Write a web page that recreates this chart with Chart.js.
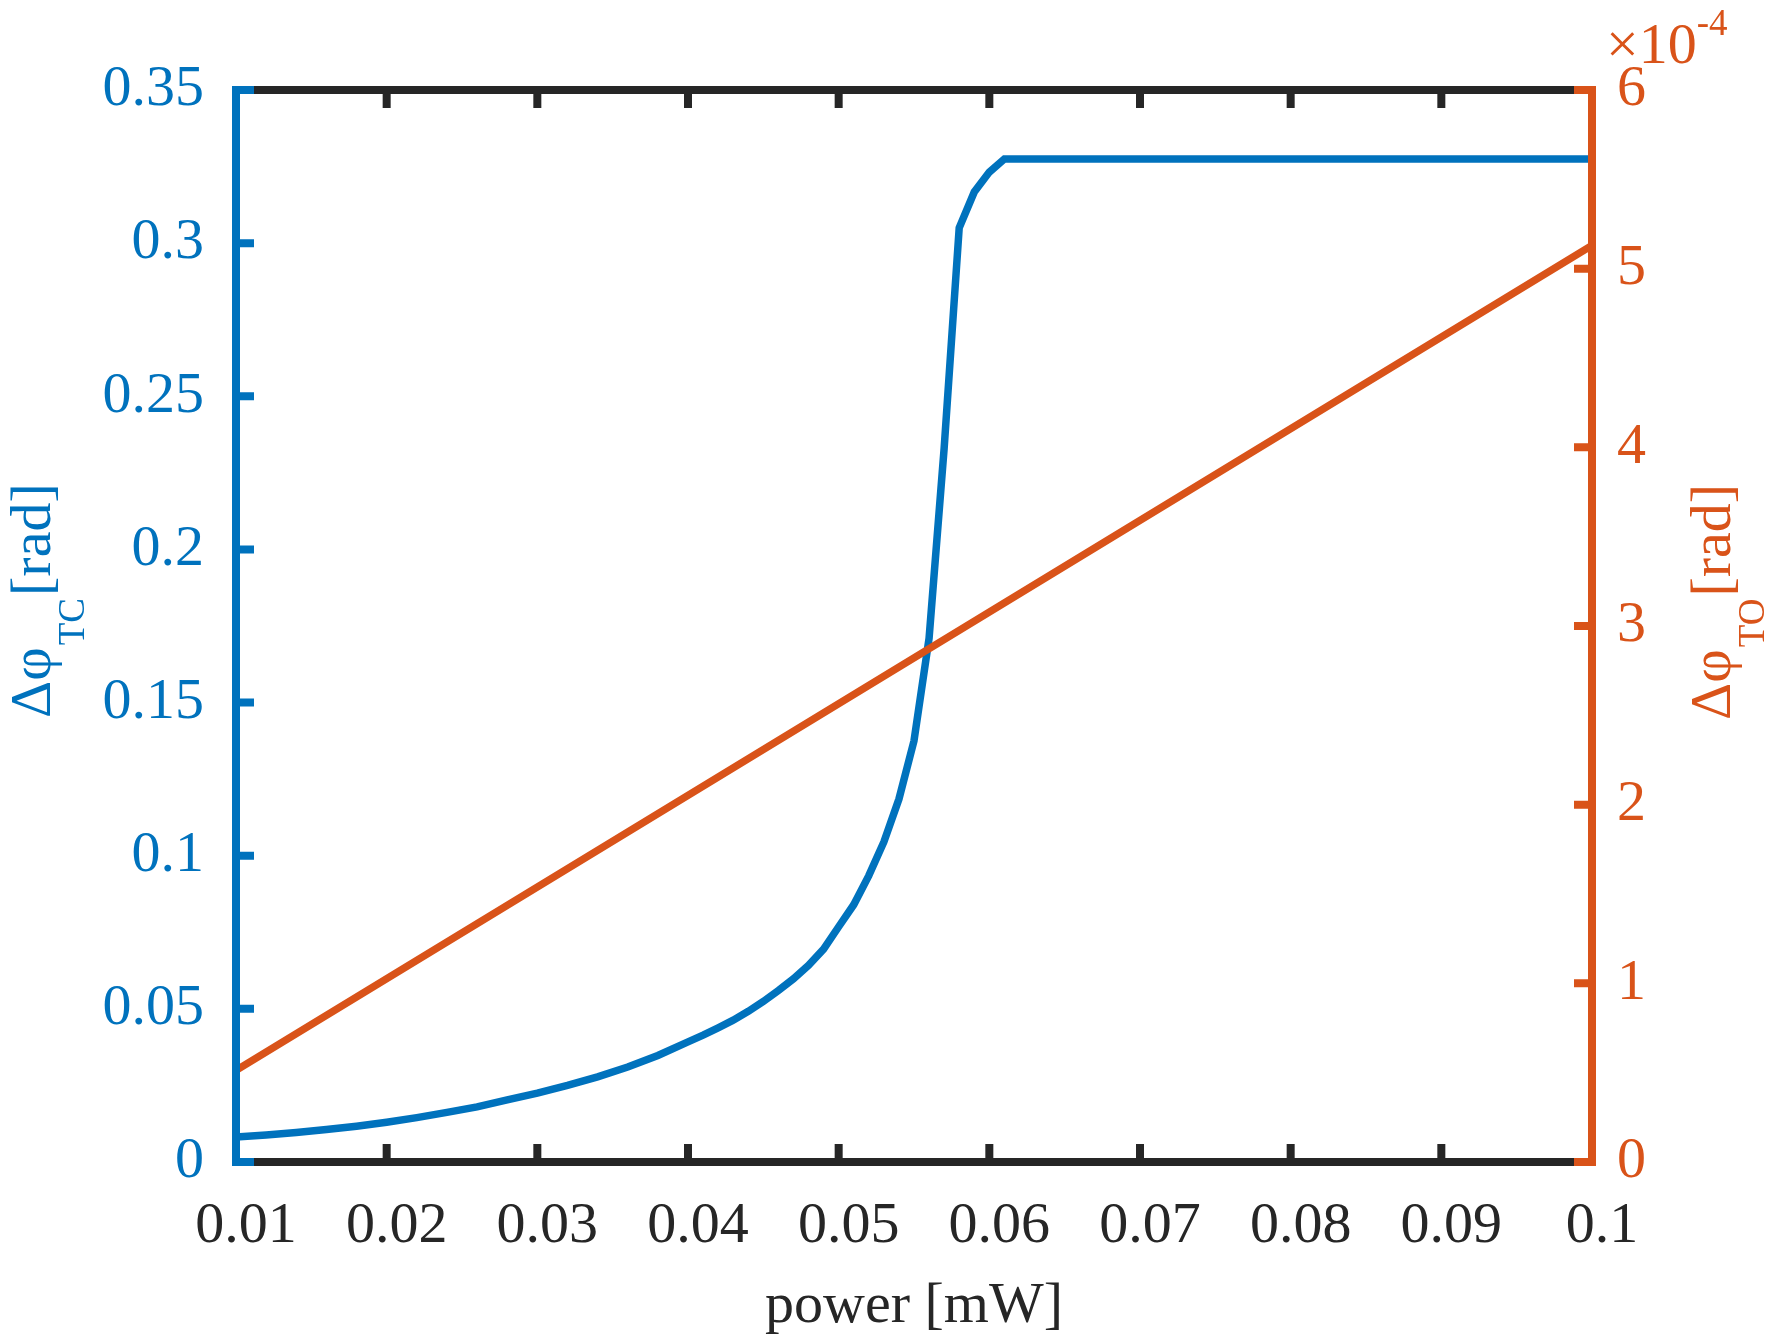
<!DOCTYPE html>
<html>
<head>
<meta charset="utf-8">
<script src="https://cdn.jsdelivr.net/npm/chart.js@4.4.0/dist/chart.umd.min.js"></script>
<style>
  html, body { margin: 0; padding: 0; background: #fff; }
</style>
</head>
<body>
<canvas id="phaseChart" width="1777" height="1342"></canvas>
<script>
// power [mW] samples for the thermal (TC) phase curve
const powerTC = [0.010, 0.012, 0.014, 0.016, 0.018, 0.020, 0.022, 0.024, 0.026, 0.028,
                 0.030, 0.032, 0.034, 0.036, 0.038, 0.040, 0.041, 0.042, 0.043, 0.044,
                 0.045, 0.046, 0.047, 0.048, 0.049, 0.050, 0.051, 0.052, 0.053, 0.054,
                 0.055, 0.056, 0.057, 0.058, 0.059, 0.060, 0.061, 0.100];
const phiTC = [0.0082, 0.0088, 0.0096, 0.0106, 0.0117, 0.0130, 0.0145, 0.0162, 0.0180, 0.0203,
               0.0225, 0.0250, 0.0278, 0.0310, 0.0348, 0.0392, 0.0414, 0.0438, 0.0463, 0.0492,
               0.0524, 0.0560, 0.0598, 0.0642, 0.0695, 0.0768, 0.0840, 0.0935, 0.1045, 0.1185,
               0.1375, 0.1710, 0.2330, 0.3050, 0.3167, 0.3232, 0.3275, 0.3275];

// thermo-optic (TO) phase, straight line
const powerTO = [0.01, 0.1];
const phiTO = [0.513e-4, 5.13e-4];

const xTicks = [0.01, 0.02, 0.03, 0.04, 0.05, 0.06, 0.07, 0.08, 0.09, 0.1];
const leftTicks = [0, 0.05, 0.1, 0.15, 0.2, 0.25, 0.3, 0.35];
const rightTicks = [0, 1e-4, 2e-4, 3e-4, 4e-4, 5e-4, 6e-4];
const rightTickLabels = ['0', '1', '2', '3', '4', '5', '6'];

const BLUE = '#0072BD';
const ORANGE = '#D95319';
const DARK = '#262626';
const FONT = "'Liberation Serif', 'Times New Roman', serif";

// matlab style box: coloured y axes, inward ticks, titles with subscripts
const matlabAxes = {
    id: 'matlabAxes',
    afterDatasetsDraw(chart) {
        const { ctx, chartArea: a, scales } = chart;
        const tl = 18;
        ctx.save();
        ctx.lineWidth = 8;
        ctx.lineCap = 'butt';

        ctx.strokeStyle = DARK;
        ctx.beginPath();
        ctx.moveTo(a.left, a.top); ctx.lineTo(a.right, a.top);
        ctx.moveTo(a.left, a.bottom); ctx.lineTo(a.right, a.bottom);
        scales.x.ticks.forEach(t => {
            const px = scales.x.getPixelForValue(t.value);
            ctx.moveTo(px, a.bottom + 4); ctx.lineTo(px, a.bottom - tl);
            ctx.moveTo(px, a.top - 4); ctx.lineTo(px, a.top + tl);
        });
        ctx.stroke();

        ctx.strokeStyle = BLUE;
        ctx.beginPath();
        ctx.moveTo(a.left, a.top - 4); ctx.lineTo(a.left, a.bottom + 4);
        scales.y.ticks.forEach(t => {
            const py = scales.y.getPixelForValue(t.value);
            ctx.moveTo(a.left - 4, py); ctx.lineTo(a.left + tl, py);
        });
        ctx.stroke();

        ctx.strokeStyle = ORANGE;
        ctx.beginPath();
        ctx.moveTo(a.right, a.top - 4); ctx.lineTo(a.right, a.bottom + 4);
        scales.y2.ticks.forEach(t => {
            const py = scales.y2.getPixelForValue(t.value);
            ctx.moveTo(a.right + 4, py); ctx.lineTo(a.right - tl, py);
        });
        ctx.stroke();

        // rotated y titles
        const drawTitle = (x, y, sub, color) => {
            ctx.save();
            ctx.translate(x, y);
            ctx.rotate(-Math.PI / 2);
            ctx.fillStyle = color;
            ctx.textBaseline = 'alphabetic';
            ctx.textAlign = 'left';
            ctx.font = '58px ' + FONT;
            let cx = 0;
            ctx.fillText('\u0394\u03C6', cx, 0);
            cx += ctx.measureText('\u0394\u03C6').width + 2;
            ctx.font = '37px ' + FONT;
            ctx.fillText(sub, cx, 34);
            cx += ctx.measureText(sub).width + 2;
            ctx.font = '58px ' + FONT;
            ctx.fillText('[rad]', cx, 0);
            ctx.restore();
        };
        drawTitle(50, 718, 'TC', BLUE);
        drawTitle(1730, 720, 'TO', ORANGE);

        // exponent label above right axis
        ctx.fillStyle = ORANGE;
        ctx.textBaseline = 'alphabetic';
        ctx.textAlign = 'left';
        ctx.font = '58px ' + FONT;
        ctx.fillText('\u00D710', 1606, 63);
        const w = ctx.measureText('\u00D710').width;
        ctx.font = '37px ' + FONT;
        ctx.fillText('-4', 1606 + w, 35);

        ctx.restore();
    }
};

const fmt = v => String(Number(v.toFixed(2)));

new Chart(document.getElementById('phaseChart'), {
    type: 'line',
    data: {
        datasets: [
            {
                label: 'TC',
                data: powerTC.map((p, i) => ({ x: p, y: phiTC[i] })),
                borderColor: BLUE,
                borderWidth: 7.5,
                pointRadius: 0,
                tension: 0,
                fill: false,
                yAxisID: 'y',
                order: 1
            },
            {
                label: 'TO',
                data: powerTO.map((p, i) => ({ x: p, y: phiTO[i] })),
                borderColor: ORANGE,
                borderWidth: 7.5,
                borderCapStyle: 'round',
                pointRadius: 0,
                tension: 0,
                fill: false,
                yAxisID: 'y2',
                order: 0
            }
        ]
    },
    options: {
        responsive: false,
        animation: false,
        devicePixelRatio: 1,
        layout: { padding: { top: 90, left: 0, right: 0, bottom: 0 } },
        plugins: { legend: { display: false }, tooltip: { enabled: false } },
        scales: {
            x: {
                type: 'linear',
                position: 'bottom',
                min: 0.01,
                max: 0.1,
                afterBuildTicks: s => { s.ticks = xTicks.map(v => ({ value: v })); },
                afterFit: s => { s.height = 180; },
                grid: { display: false, drawTicks: false },
                border: { display: false },
                ticks: {
                    color: DARK,
                    font: { family: FONT, size: 58 },
                    padding: 30,
                    labelOffset: 10,
                    maxRotation: 0,
                    autoSkip: false,
                    callback: v => fmt(v)
                },
                title: {
                    display: true,
                    text: 'power [mW]',
                    color: DARK,
                    font: { family: FONT, size: 58 },
                    padding: { top: 0, bottom: 0 }
                }
            },
            y: {
                type: 'linear',
                position: 'left',
                min: 0,
                max: 0.35,
                afterBuildTicks: s => { s.ticks = leftTicks.map(v => ({ value: v })); },
                afterFit: s => { s.width = 236; },
                grid: { display: false, drawTicks: false },
                border: { display: false },
                ticks: {
                    color: BLUE,
                    font: { family: FONT, size: 58 },
                    padding: 32,
                    autoSkip: false,
                    callback: v => fmt(v)
                }
            },
            y2: {
                type: 'linear',
                position: 'right',
                min: 0,
                max: 6e-4,
                afterBuildTicks: s => { s.ticks = rightTicks.map(v => ({ value: v })); },
                afterFit: s => { s.width = 185; },
                grid: { display: false, drawTicks: false },
                border: { display: false },
                ticks: {
                    color: ORANGE,
                    font: { family: FONT, size: 58 },
                    padding: 25,
                    autoSkip: false,
                    callback: (v, i) => rightTickLabels[i]
                }
            }
        }
    },
    plugins: [matlabAxes]
});
</script>
</body>
</html>
